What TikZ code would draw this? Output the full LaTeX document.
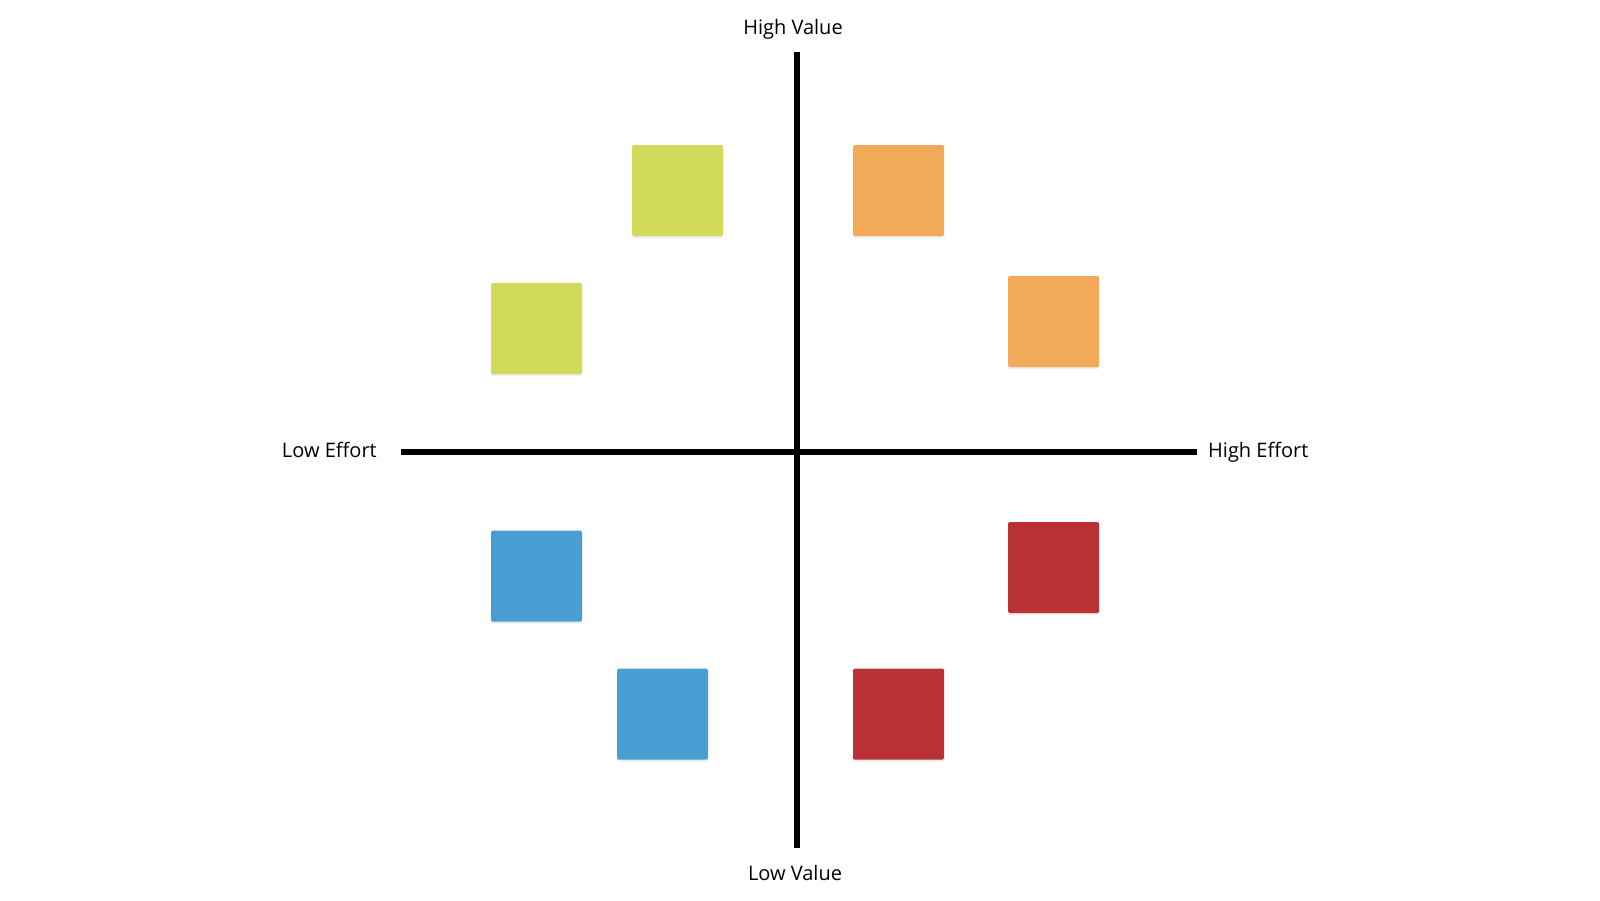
\documentclass[tikz,border=0pt]{standalone}
\usepackage{fontspec}
\setmainfont{Open Sans}
\usetikzlibrary{shadows}
\definecolor{cgreen}{RGB}{210,218,90}
\definecolor{corange}{RGB}{242,169,90}
\definecolor{cblue}{RGB}{73,159,212}
\definecolor{cred}{RGB}{185,49,53}
\begin{document}
\begin{tikzpicture}[x=1pt,y=-1pt,
  note/.style={minimum width=91pt,minimum height=91pt,inner sep=0pt,rounded corners=1.5pt,
    drop shadow={shadow xshift=0pt,shadow yshift=-2pt,fill=black,opacity=0.07}},
  axis/.style={line width=6pt,black},
  lbl/.style={font=\fontsize{20}{24}\selectfont,inner sep=0pt,text=black}]
\useasboundingbox[fill=white] (0,0) rectangle (1600,900);
% axes
\coordinate (top) at (797,52);
\coordinate (bottom) at (797,848);
\coordinate (left) at (401,452);
\coordinate (right) at (1197,452);
\draw[axis] (left) -- (right);
\draw[axis] (top) -- (bottom);
% labels
\node[lbl,anchor=base] (hv) at (793,34) {High Value};
\node[lbl,anchor=base] (lv) at (795,880) {Low Value};
\node[lbl,anchor=base east] (le) at (377,457) {Low Effort};
\node[lbl,anchor=base west] (he) at (1208,457) {High Effort};
% notes
\node[note,fill=cgreen] (g1) at (677.5,190.5) {};
\node[note,fill=corange] (o1) at (898.5,190.5) {};
\node[note,fill=cgreen] (g2) at (536.5,328.5) {};
\node[note,fill=corange] (o2) at (1053.5,321.5) {};
\node[note,fill=cblue] (b1) at (536.5,576) {};
\node[note,fill=cred] (r1) at (1053.5,567.5) {};
\node[note,fill=cblue] (b2) at (662.5,714) {};
\node[note,fill=cred] (r2) at (898.5,714) {};
\end{tikzpicture}
\end{document}
